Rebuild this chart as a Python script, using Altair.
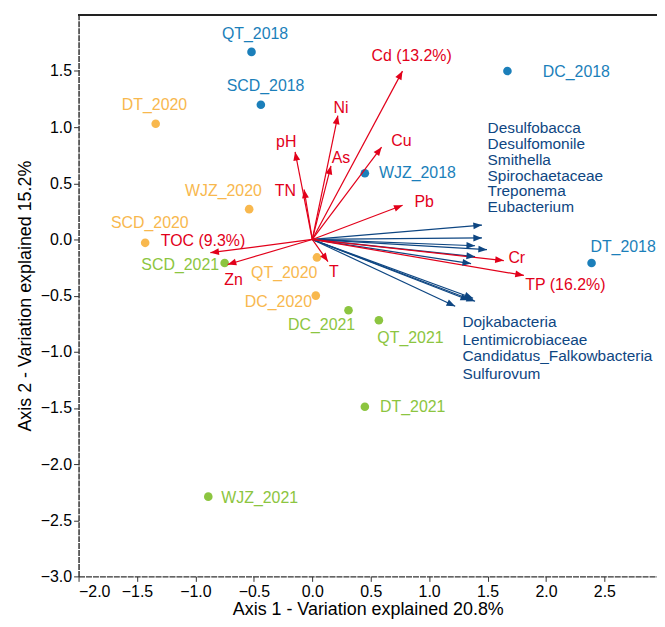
import math
import altair as alt
import pandas as pd

# ---- data ----
sample_names = ["QT_2018", "SCD_2018", "DC_2018", "WJZ_2018", "DT_2018",
                "DT_2020", "WJZ_2020", "SCD_2020", "QT_2020", "DC_2020",
                "SCD_2021", "DC_2021", "QT_2021", "DT_2021", "WJZ_2021"]
sample_year = ["2018"] * 5 + ["2020"] * 5 + ["2021"] * 5
sample_x = [-0.52, -0.44, 1.67, 0.45, 2.39,
            -1.34, -0.54, -1.43, 0.04, 0.03,
            -0.75, 0.31, 0.57, 0.45, -0.89]
sample_y = [1.67, 1.20, 1.50, 0.59, -0.21,
            1.03, 0.27, -0.03, -0.16, -0.50,
            -0.21, -0.63, -0.72, -1.49, -2.29]
sample_lx = [-0.49, -0.40, 2.26, 0.90, 2.66,
             -1.35, -0.76, -1.39, -0.24, -0.29,
             -1.13, 0.08, 0.84, 0.86, -0.45]
sample_ly = [1.83, 1.37, 1.49, 0.59, -0.07,
             1.20, 0.43, 0.15, -0.30, -0.56,
             -0.23, -0.76, -0.88, -1.49, -2.30]

env_names = ["Cd (13.2%)", "Ni", "As", "Cu", "Pb", "Cr", "TP (16.2%)",
             "pH", "TN", "TOC (9.3%)", "Zn", "T"]
env_x = [0.772, 0.219, 0.160, 0.593, 0.773, 1.639, 1.811,
         -0.147, -0.070, -0.872, -0.724, 0.134]
env_y = [1.499, 1.103, 0.656, 0.822, 0.304, -0.188, -0.320,
         0.779, 0.445, -0.118, -0.223, -0.197]
env_lx = [0.85, 0.245, 0.245, 0.763, 0.957, 1.75, 2.166,
          -0.223, -0.231, -0.935, -0.673, 0.184]
env_ly = [1.631, 1.174, 0.726, 0.876, 0.330, -0.162, -0.408,
          0.868, 0.427, -0.012, -0.365, -0.294]

taxa_x = [1.452, 1.452, 1.393, 1.495, 1.393, 1.359,
          1.376, 1.393, 1.342, 1.223]
taxa_y = [0.128, 0.014, -0.056, -0.091, -0.153, -0.215,
          -0.524, -0.550, -0.541, -0.594]

taxa_labels = ["Desulfobacca", "Desulfomonile", "Smithella", "Spirochaetaceae",
               "Treponema", "Eubacterium",
               "Dojkabacteria", "Lentimicrobiaceae", "Candidatus_Falkowbacteria",
               "Sulfurovum"]
taxa_lx = [1.50] * 6 + [1.285] * 4
taxa_ly = [0.989, 0.850, 0.708, 0.567, 0.427, 0.286,
           -0.734, -0.892, -1.042, -1.200]

years = ["2018", "2020", "2021"]
year_colors = ["#1b7fba", "#f8b84e", "#8cc540"]
RED = "#e2001a"
NAVY = "#0e4682"
FONT = "Liberation Sans"

# ---- layout ----
W, H = 582, 565
XDOM = [-2.0, 2.95]
YDOM = [-3.0, 2.0]
sx = W / (XDOM[1] - XDOM[0])
sy = H / (YDOM[1] - YDOM[0])

samples = pd.DataFrame({"name": sample_names, "year": sample_year,
                        "x": sample_x, "y": sample_y,
                        "lx": sample_lx, "ly": sample_ly})
env = pd.DataFrame({"name": env_names, "x": env_x, "y": env_y,
                    "lx": env_lx, "ly": env_ly})
env["x0"] = 0.0
env["y0"] = 0.0
env["angle"] = [math.degrees(math.atan2(a * sx, b * sy)) % 360 for a, b in zip(env_x, env_y)]
taxa = pd.DataFrame({"x": taxa_x, "y": taxa_y})
taxa["x0"] = 0.0
taxa["y0"] = 0.0
taxa["angle"] = [math.degrees(math.atan2(a * sx, b * sy)) % 360 for a, b in zip(taxa_x, taxa_y)]
taxa_text = pd.DataFrame({"name": taxa_labels, "lx": taxa_lx, "ly": taxa_ly})

xscale = alt.Scale(domain=XDOM, nice=False, zero=False)
yscale = alt.Scale(domain=YDOM, nice=False, zero=False)

X = alt.X("x:Q", scale=xscale,
          axis=alt.Axis(values=[-2.0, -1.5, -1.0, -0.5, 0.0, 0.5, 1.0, 1.5, 2.0, 2.5],
                        format=".1f", title="Axis 1 - Variation explained 20.8%",
                        titlePadding=1))
Y = alt.Y("y:Q", scale=yscale,
          axis=alt.Axis(values=[-3.0, -2.5, -2.0, -1.5, -1.0, -0.5, 0.0, 0.5, 1.0, 1.5],
                        format=".1f", title="Axis 2 - Variation explained 15.2%",
                        titlePadding=6))

arrow_path = "M0,0 L-0.4,1 L0.4,1 Z"

top_line = alt.Chart(samples).mark_rule(color="#222", strokeWidth=1.5).encode(
    x=alt.value(0), x2=alt.value(W), y=alt.value(0))

taxa_rules = alt.Chart(taxa).mark_rule(color=NAVY, strokeWidth=1.2).encode(
    x=alt.X("x0:Q", scale=xscale), y=alt.Y("y0:Q", scale=yscale), x2="x:Q", y2="y:Q")
taxa_heads = alt.Chart(taxa).mark_point(shape=arrow_path, filled=True, size=300,
                                        color=NAVY, opacity=1, strokeWidth=0).encode(
    x=alt.X("x:Q", scale=xscale), y=alt.Y("y:Q", scale=yscale), angle=alt.Angle("angle:Q", scale=None))

env_rules = alt.Chart(env).mark_rule(color=RED, strokeWidth=1.2).encode(
    x=alt.X("x0:Q", scale=xscale), y=alt.Y("y0:Q", scale=yscale), x2="x:Q", y2="y:Q")
env_heads = alt.Chart(env).mark_point(shape=arrow_path, filled=True, size=300,
                                      color=RED, opacity=1, strokeWidth=0).encode(
    x=alt.X("x:Q", scale=xscale), y=alt.Y("y:Q", scale=yscale), angle=alt.Angle("angle:Q", scale=None))
env_text = alt.Chart(env).mark_text(font=FONT, fontSize=16, color=RED,
                                    align="center", baseline="middle").encode(
    x=alt.X("lx:Q", scale=xscale), y=alt.Y("ly:Q", scale=yscale), text="name:N")

taxa_label = alt.Chart(taxa_text).mark_text(font=FONT, fontSize=15.5, color=NAVY,
                                            align="left", baseline="middle").encode(
    x=alt.X("lx:Q", scale=xscale), y=alt.Y("ly:Q", scale=yscale), text="name:N")

color = alt.Color("year:N", scale=alt.Scale(domain=years, range=year_colors), legend=None)

points = alt.Chart(samples).mark_circle(size=75, opacity=1).encode(x=X, y=Y, color=color)
point_text = alt.Chart(samples).mark_text(font=FONT, fontSize=16, align="center",
                                          baseline="middle").encode(
    x=alt.X("lx:Q", scale=xscale), y=alt.Y("ly:Q", scale=yscale), text="name:N", color=color)

chart = alt.layer(
    points, taxa_rules, env_rules, taxa_heads, env_heads,
    env_text, taxa_label, point_text, top_line
).properties(
    width=W, height=H,
    autosize=alt.AutoSizeParams(type="none"),
    padding={"left": 71, "top": 5, "right": 0, "bottom": 41},
).configure_view(stroke=None).configure_axis(
    grid=False, labelFont=FONT, titleFont=FONT, labelFontSize=16, titleFontSize=18,
    titleFontWeight="normal", labelColor="#000", titleColor="#000",
    domainColor="#333", domainWidth=1.5, domainDash=[6, 1],
    tickColor="#333", tickSize=5, tickWidth=1, labelPadding=2,
)

chart.save("out.html", embed_options={"renderer": "svg", "actions": False})
